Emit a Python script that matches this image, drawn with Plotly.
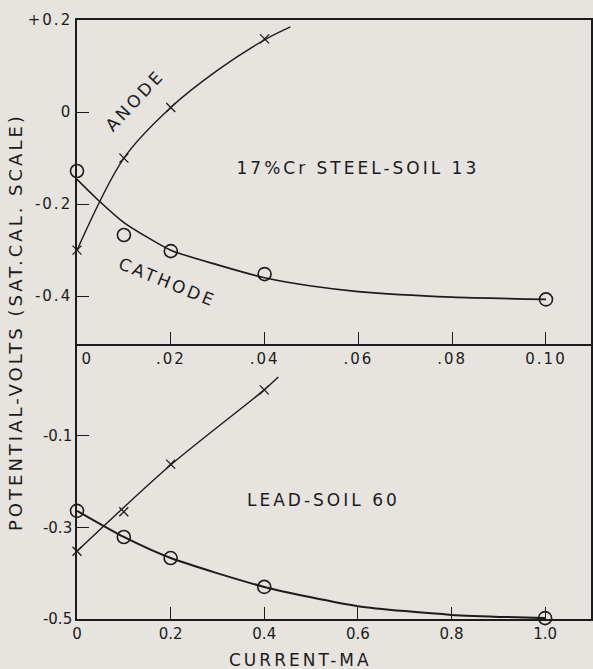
import plotly.graph_objects as go

# ---- Data ----
# Top panel: 17%Cr steel - soil 13 (current in mA, potential in volts)
top_anode_x = [0.0, 0.01, 0.02, 0.04]
top_anode_y = [-0.30, -0.10, 0.01, 0.159]
top_cathode_x = [0.0, 0.01, 0.02, 0.04, 0.10]
top_cathode_y = [-0.128, -0.267, -0.302, -0.352, -0.407]

# hand-drawn fitted curves
top_anode_curve_x = [0.0, 0.01, 0.02, 0.03, 0.04, 0.0455]
top_anode_curve_y = [-0.30, -0.10, 0.01, 0.091, 0.157, 0.185]
top_cathode_curve_x = [0.0, 0.0045, 0.01, 0.02, 0.03, 0.04, 0.05, 0.06, 0.08, 0.10]
top_cathode_curve_y = [-0.146, -0.191, -0.24, -0.30, -0.332, -0.36, -0.378, -0.39, -0.402, -0.407]

# Bottom panel: lead - soil 60
bot_anode_x = [0.0, 0.1, 0.2, 0.4]
bot_anode_y = [-0.352, -0.266, -0.162, 0.0]
bot_cathode_x = [0.0, 0.1, 0.2, 0.4, 1.0]
bot_cathode_y = [-0.264, -0.321, -0.367, -0.430, -0.498]

bot_anode_curve_x = [0.0, 0.2, 0.4, 0.43]
bot_anode_curve_y = [-0.352, -0.164, 0.0, 0.028]
bot_cathode_curve_x = [0.0, 0.1, 0.2, 0.4, 0.6, 0.8, 1.0]
bot_cathode_curve_y = [-0.264, -0.321, -0.367, -0.430, -0.472, -0.491, -0.498]

top_xticks = [0.0, 0.02, 0.04, 0.06, 0.08, 0.10]
top_xlabels = ["\u00a0\u00a0\u00a00", ".02", ".04", ".06", ".08", "0.10"]
top_yticks = [0.2, 0.0, -0.2, -0.4]
top_ylabels = ["+0.2", "0", "-0.2", "-0.4"]
bot_xticks = [0.0, 0.2, 0.4, 0.6, 0.8, 1.0]
bot_xlabels = ["0", "0.2", "0.4", "0.6", "0.8", "1.0"]
bot_yticks = [-0.1, -0.3, -0.5]
bot_ylabels = ["-0.1", "-0.3", "-0.5"]

INK = "#1c1c1c"
BG = "#e7e3de"
FONT = "DejaVu Sans"

fig = go.Figure()

def curve(x, y, xa, ya, w=1.5, smooth=0.6):
    fig.add_trace(go.Scatter(x=x, y=y, mode="lines",
                             line=dict(color=INK, width=w, shape="spline", smoothing=smooth),
                             xaxis=xa, yaxis=ya, showlegend=False, hoverinfo="skip"))

def pts(x, y, xa, ya, sym, size, lw):
    fig.add_trace(go.Scatter(x=x, y=y, mode="markers",
                             marker=dict(symbol=sym, size=size, color=INK, line=dict(color=INK, width=lw)),
                             xaxis=xa, yaxis=ya, showlegend=False, cliponaxis=False))

curve(top_anode_curve_x, top_anode_curve_y, "x", "y", 1.4, 0.9)
curve(top_cathode_curve_x, top_cathode_curve_y, "x", "y", 1.6, 0.6)
pts(top_anode_x, top_anode_y, "x", "y", "x-thin-open", 9, 1.3)
pts(top_cathode_x, top_cathode_y, "x", "y", "circle-open", 13, 1.6)

curve(bot_anode_curve_x, bot_anode_curve_y, "x2", "y2", 1.4, 0.8)
curve(bot_cathode_curve_x, bot_cathode_curve_y, "x2", "y2", 2.0, 0.6)
pts(bot_anode_x, bot_anode_y, "x2", "y2", "x-thin-open", 9, 1.3)
pts(bot_cathode_x, bot_cathode_y, "x2", "y2", "circle-open", 13, 1.6)

axis_common = dict(showline=True, linecolor=INK, linewidth=1.6, showgrid=False, zeroline=False,
                   automargin=False, ticks="inside", tickcolor=INK, tickwidth=1.3, ticklen=12,
                   tickfont=dict(family=FONT, size=15, color=INK))

split = 0.459
fig.update_layout(
    width=593, height=669,
    margin=dict(l=77, r=2, t=20, b=50),
    paper_bgcolor=BG, plot_bgcolor=BG,
    font=dict(family=FONT, color=INK),
    xaxis=dict(axis_common, mirror=True, domain=[0, 1], anchor="y", range=[0, 0.1096],
               tickvals=top_xticks, ticktext=top_xlabels),
    yaxis=dict(axis_common, mirror=True, domain=[split, 1], anchor="x", range=[-0.504, 0.2],
               tickvals=top_yticks, ticktext=top_ylabels),
    xaxis2=dict(axis_common, mirror=False, domain=[0, 1], anchor="y2", range=[0, 1.098],
                tickvals=bot_xticks, ticktext=bot_xlabels),
    yaxis2=dict(axis_common, mirror=True, domain=[0, split], anchor="x2", range=[-0.5, 0.1],
                tickvals=bot_yticks, ticktext=bot_ylabels),
)

annotations = [
    dict(text="17%Cr STEEL-SOIL 13", x=0.060, y=-0.122, xref="x", yref="y", angle=0),
    dict(text="ANODE", x=0.0124, y=0.026, xref="x", yref="y", angle=-47),
    dict(text="CATHODE", x=0.0192, y=-0.370, xref="x", yref="y", angle=22),
    dict(text="LEAD-SOIL 60", x=0.526, y=-0.240, xref="x2", yref="y2", angle=0),
]
for a in annotations:
    fig.add_annotation(text=a["text"], x=a["x"], y=a["y"], xref=a["xref"], yref=a["yref"],
                       showarrow=False, textangle=a["angle"],
                       font=dict(family=FONT, size=17, color=INK))

# axis titles as annotations (pixel positions converted to paper coordinates)
fig.add_annotation(text="POTENTIAL-VOLTS (SAT.CAL. SCALE)", x=(15 - 77) / 514, y=(619 - 322) / 599,
                   xref="paper", yref="paper", showarrow=False, textangle=-90,
                   xanchor="center", yanchor="middle", font=dict(family=FONT, size=18, color=INK))
fig.add_annotation(text="CURRENT-MA", x=(300 - 77) / 514, y=(619 - 660) / 599,
                   xref="paper", yref="paper", showarrow=False,
                   xanchor="center", yanchor="middle", font=dict(family=FONT, size=17, color=INK))

# page without body margin; the original lettering is widely spaced
page_js = (
    "document.body.style.margin='0';"
    "document.body.style.background='" + BG + "';"
    "var s=document.createElement('style');"
    "s.innerHTML='.annotation-text{letter-spacing:3px;} .xtick text, .ytick text{letter-spacing:2px;}';"
    "document.head.appendChild(s);"
)

fig.write_html("out.html", post_script=page_js, config={"displayModeBar": False})
